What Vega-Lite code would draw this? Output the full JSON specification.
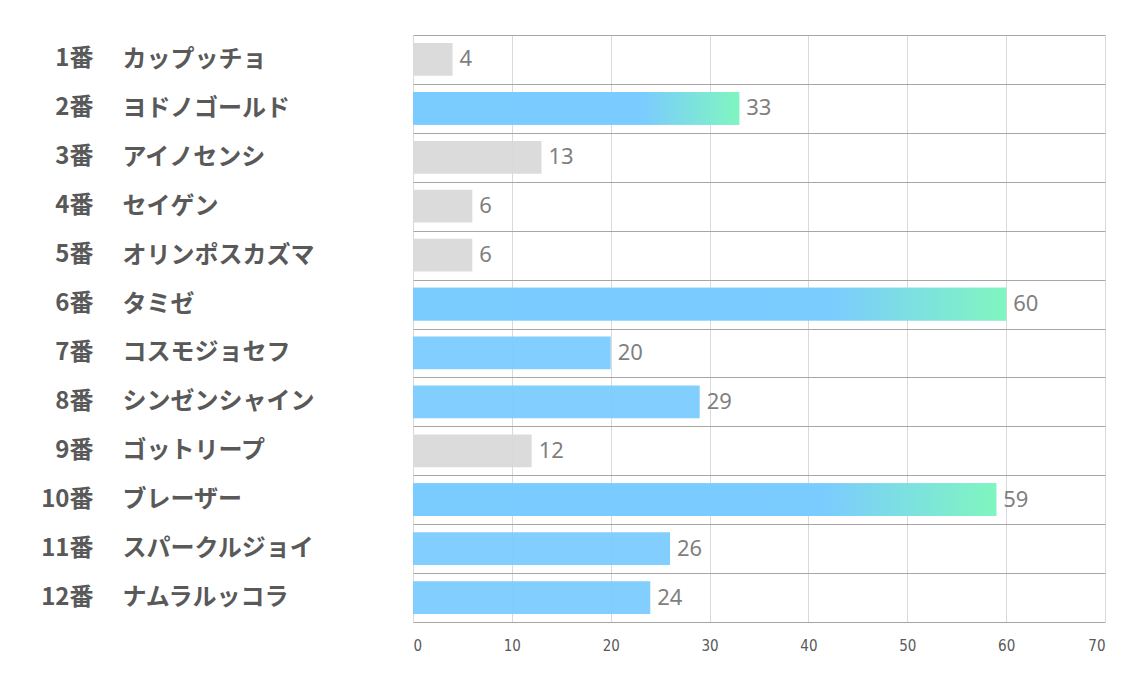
{
  "$schema": "https://vega.github.io/schema/vega-lite/v6.json",
  "width": 692,
  "height": 587,
  "autosize": "none",
  "padding": {"left": 413, "top": 35, "right": 29, "bottom": 58},
  "background": "white",
  "config": {"view": {"stroke": null}},
  "data": {
    "values": [
      {"key": "1番　カップッチョ", "value": 4, "kind": "gray"},
      {"key": "2番　ヨドノゴールド", "value": 33, "kind": "grad"},
      {"key": "3番　アイノセンシ", "value": 13, "kind": "gray"},
      {"key": "4番　セイゲン", "value": 6, "kind": "gray"},
      {"key": "5番　オリンポスカズマ", "value": 6, "kind": "gray"},
      {"key": "6番　タミゼ", "value": 60, "kind": "grad"},
      {"key": "7番　コスモジョセフ", "value": 20, "kind": "blue"},
      {"key": "8番　シンゼンシャイン", "value": 29, "kind": "blue"},
      {"key": "9番　ゴットリープ", "value": 12, "kind": "gray"},
      {"key": "10番　ブレーザー", "value": 59, "kind": "grad"},
      {"key": "11番　スパークルジョイ", "value": 26, "kind": "blue"},
      {"key": "12番　ナムラルッコラ", "value": 24, "kind": "blue"}
    ]
  },
  "encoding": {
    "y": {
      "field": "key",
      "type": "nominal",
      "sort": null,
      "scale": {"paddingInner": 0, "paddingOuter": 0}
    }
  },
  "layer": [
    {
      "mark": {"type": "bar", "height": {"band": 0.67}, "opacity": 0.95},
      "encoding": {
        "x": {
          "field": "value",
          "type": "quantitative",
          "scale": {"domain": [0, 70], "nice": false},
          "axis": {
            "title": null,
            "values": [0, 10, 20, 30, 40, 50, 60, 70],
            "domain": false,
            "ticks": false,
            "labelPadding": 16,
            "labelFont": "DejaVu Sans Condensed",
            "labelFontSize": 15,
            "labelColor": "#595959",
            "gridColor": "#d9d9d9",
            "gridWidth": 1
          }
        },
        "y": {
          "field": "key",
          "type": "nominal",
          "sort": null,
          "axis": {
            "orient": "left",
            "title": null,
            "domain": false,
            "ticks": false,
            "tickSize": 0,
            "grid": true,
            "tickBand": "extent",
            "gridColor": "#a6a6a6",
            "gridWidth": 1,
            "labelAlign": "left",
            "labelBaseline": "middle",
            "labelPadding": 291,
            "labelFont": "Noto Sans CJK JP",
            "labelFontWeight": "bold",
            "labelFontSize": 24,
            "labelColor": "#595959",
            "labelExpr": "split(datum.label, '　')[1]",
            "labelLimit": 400
          }
        },
        "color": {
          "field": "kind",
          "type": "nominal",
          "scale": {"domain": ["gray", "blue", "grad"], "range": ["#d9d9d9", "#7acbff", "#7acbff"]},
          "legend": null
        }
      }
    },
    {
      "transform": [{"filter": "datum.kind === 'grad'"}],
      "mark": {
        "type": "bar",
        "height": {"band": 0.67},
        "opacity": 0.95,
        "fill": {
          "gradient": "linear",
          "x1": 0, "x2": 1, "y1": 0, "y2": 0,
          "stops": [
            {"offset": 0, "color": "#7acbff"},
            {"offset": 0.7, "color": "#7acbff"},
            {"offset": 1, "color": "#7ff8bc"}
          ]
        }
      },
      "encoding": {
        "x": {"field": "value", "type": "quantitative"},
        "y": {"field": "key", "type": "nominal", "sort": null, "axis": null}
      }
    },
    {
      "mark": {
        "type": "text",
        "align": "left",
        "baseline": "middle",
        "dx": 7,
        "font": "Noto Sans",
        "fontSize": 22,
        "color": "#7f7f7f"
      },
      "encoding": {
        "x": {"field": "value", "type": "quantitative"},
        "y": {
          "field": "key",
          "type": "nominal",
          "sort": null,
          "axis": {
            "orient": "left",
            "title": null,
            "domain": false,
            "ticks": false,
            "tickSize": 0,
            "grid": false,
            "labelAlign": "right",
            "labelBaseline": "middle",
            "labelPadding": 320,
            "labelFont": "Noto Sans CJK JP",
            "labelFontWeight": "bold",
            "labelFontSize": 24,
            "labelColor": "#595959",
            "labelExpr": "split(datum.label, '　')[0]"
          }
        },
        "text": {"field": "value", "type": "quantitative"}
      }
    }
  ],
  "resolve": {"axis": {"y": "independent"}}
}
